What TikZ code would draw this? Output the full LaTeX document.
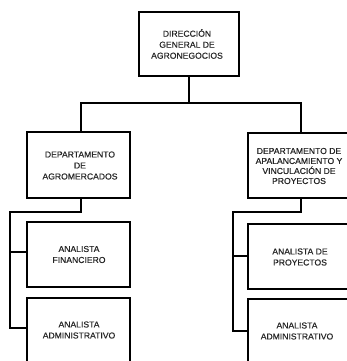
\documentclass[tikz,border=0pt]{standalone}
\usepackage{fontspec}
\setmainfont{Liberation Sans}[FakeBold=0.5]
\begin{document}
\begin{tikzpicture}[x=1pt,y=-1pt,
  box/.style={draw, line width=1.3pt, rectangle, inner sep=0pt},
  txt/.style={align=center, font=\fontsize{8.6}{11}\selectfont, inner sep=0pt, text=black!85},
  link/.style={line width=1.2pt}]
\useasboundingbox (0,0) rectangle (347,361);
\clip (0,0) rectangle (347,361);

% head office
\node[box, minimum width=100pt, minimum height=64pt] (dir) at (189,44) {};
\node[txt] (dirt) at (187,44) {DIRECCIÓN\\GENERAL DE\\AGRONEGOCIOS};

% departments
\node[box, minimum width=103pt, minimum height=66pt] (dep1) at (78.5,165) {};
\node[txt] (dep1t) at (80,165.5) {DEPARTAMENTO\\DE\\AGROMERCADOS};
\node[box, minimum width=112pt, minimum height=65pt] (dep2) at (304,165.5) {};
\node[txt, font=\fontsize{8.6}{10}\selectfont] (dep2t) at (299,166) {DEPARTAMENTO DE\\APALANCAMIENTO Y\\VINCULACIÓN DE\\PROYECTOS};

% analysts under the first department
\node[box, minimum width=103pt, minimum height=65pt] (an1) at (78.5,254.5) {};
\node[txt] (an1t) at (79,254.5) {ANALISTA\\FINANCIERO};
\node[box, minimum width=103pt, minimum height=90pt] (an2) at (78.5,343) {};
\node[txt] (an2t) at (79,330) {ANALISTA\\ADMINISTRATIVO};

% analysts under the second department
\node[box, minimum width=112pt, minimum height=65pt] (an3) at (304,256.5) {};
\node[txt] (an3t) at (300,257) {ANALISTA DE\\PROYECTOS};
\node[box, minimum width=112pt, minimum height=90pt] (an4) at (304,344) {};
\node[txt] (an4t) at (297,331) {ANALISTA\\ADMINISTRATIVO};

% connectors
\coordinate (bus) at (189,103);
\draw[link] (dir.south) -- (bus);
\draw[link] (dep1.north -| 81,0) |- (bus) -| (dep2.north -| 301,0);

\coordinate (l1) at (81,212);
\coordinate (l2) at (10,212);
\draw[link] (dep1.south -| l1) -- (l1) -- (l2) |- (an2.west |- 0,328);
\draw[link] (l2 |- 0,252) -- (an1.west |- 0,252);

\coordinate (r1) at (301,212);
\coordinate (r2) at (233,212);
\draw[link] (dep2.south -| r1) -- (r1) -- (r2) |- (an4.west |- 0,331);
\draw[link] (r2 |- 0,256) -- (an3.west |- 0,256);
\end{tikzpicture}
\end{document}
